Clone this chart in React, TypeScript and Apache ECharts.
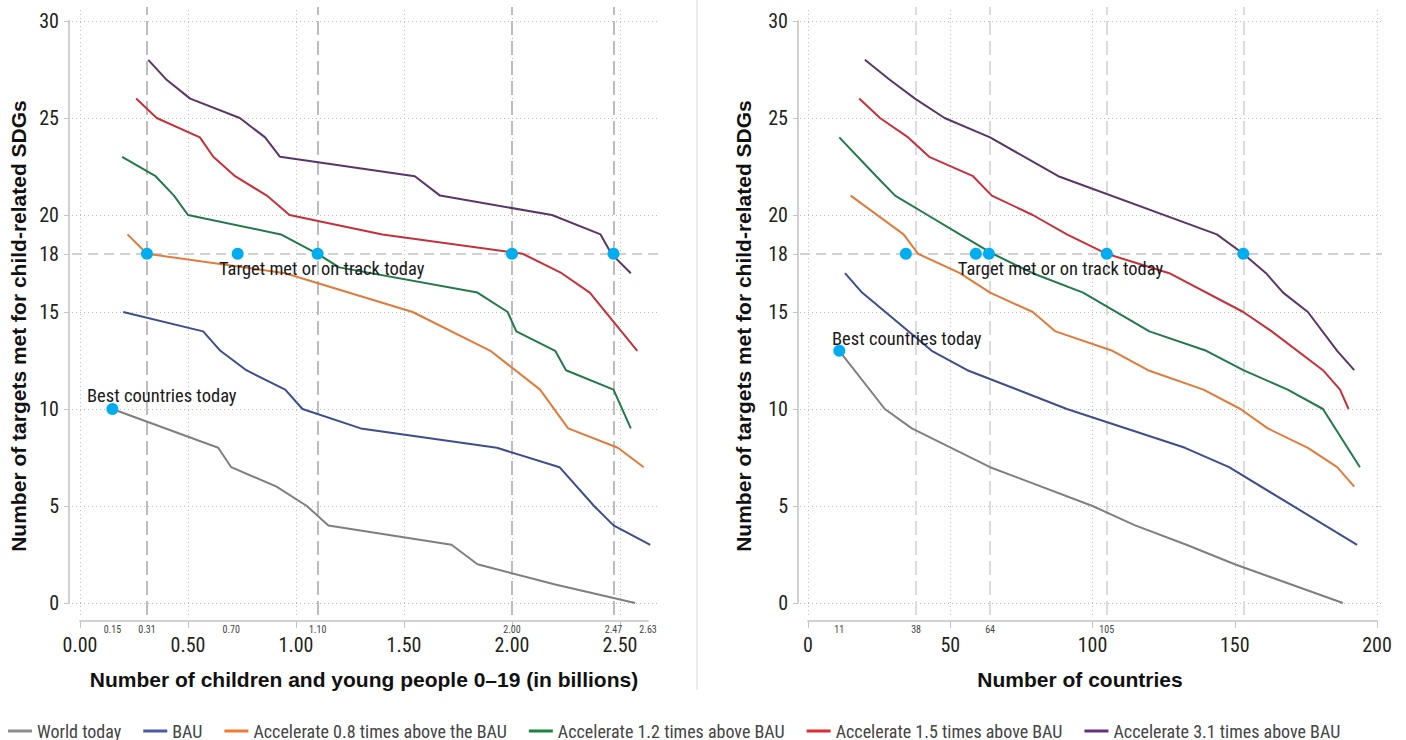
import React, { useEffect, useRef } from "react";
import * as echarts from "echarts";

const NARROW = '"Liberation Sans Narrow", "Arial Narrow", "Roboto Condensed", sans-serif';
const BOLD = '"Liberation Sans", Arial, Helvetica, sans-serif';

const seriesNames = [
  "World today",
  "BAU",
  "Accelerate 0.8 times above the BAU",
  "Accelerate 1.2 times above BAU",
  "Accelerate 1.5 times above BAU",
  "Accelerate 3.1 times above BAU",
];
const lineColors = ["#7f7f7f", "#3d4d8e", "#e07b39", "#22794a", "#c6303a", "#5b3568"];
const legendColors = ["#8c8c8c", "#4b5aa7", "#f07a2a", "#17843f", "#e12a2d", "#6b2e7e"];

// Left panel: number of children and young people (billions)
const leftWorld = [[0.15, 10], [0.64, 8], [0.70, 7], [0.91, 6], [1.05, 5], [1.15, 4], [1.72, 3], [1.84, 2], [2.2, 0.95], [2.57, 0]];
const leftBAU = [[0.20, 15], [0.57, 14], [0.65, 13], [0.77, 12], [0.95, 11], [1.03, 10], [1.30, 9], [1.93, 8], [2.22, 7], [2.38, 5], [2.47, 4], [2.64, 3]];
const leftAcc08 = [[0.22, 19], [0.31, 18], [0.95, 17], [1.54, 15], [1.90, 13], [2.13, 11], [2.26, 9], [2.49, 8], [2.61, 7]];
const leftAcc12 = [[0.195, 23], [0.35, 22], [0.435, 21], [0.50, 20], [0.93, 19], [1.10, 18], [1.20, 17.3], [1.84, 16], [1.98, 15], [2.02, 14], [2.20, 13], [2.25, 12], [2.47, 11], [2.55, 9]];
const leftAcc15 = [[0.26, 26], [0.355, 25], [0.555, 24], [0.617, 23], [0.718, 22], [0.865, 21], [0.97, 20], [1.40, 19], [2.05, 18], [2.23, 17], [2.36, 16], [2.58, 13]];
const leftAcc31 = [[0.316, 28], [0.398, 27], [0.51, 26], [0.74, 25], [0.857, 24], [0.926, 23], [1.55, 22], [1.667, 21], [2.185, 20], [2.41, 19], [2.46, 18], [2.55, 17]];
const leftTargetDots = [0.31, 0.73, 1.10, 2.00, 2.47];
const leftBest = [0.15, 10];
const leftXTicks = [0, 0.5, 1, 1.5, 2, 2.5];
const leftXMarks = [0.15, 0.31, 0.70, 1.10, 2.00, 2.47, 2.63];
const leftRefX = [0.31, 1.10, 2.00, 2.47];

// Right panel: number of countries
const rightWorld = [[11, 13], [27, 10], [36.5, 9], [64, 7], [100, 5], [115, 4], [133, 3], [150, 2], [188, 0]];
const rightBAU = [[13, 17], [19, 16], [43.5, 13], [56, 12], [91, 10], [132.5, 8], [148, 7], [193, 3]];
const rightAcc08 = [[15, 21], [33.6, 19], [38.7, 18], [53.4, 17], [64, 16], [79, 15], [87, 14], [107, 13], [119.5, 12], [139, 11], [152, 10], [161.6, 9], [175.7, 8], [186, 7], [192, 6]];
const rightAcc12 = [[11, 24], [24, 22], [30.6, 21], [42, 20], [53.4, 19], [65, 18], [79, 17], [96.7, 16], [120, 14], [140, 13], [153, 12], [168.6, 11], [181, 10], [194, 7]];
const rightAcc15 = [[18, 26], [25.3, 25], [35.2, 24], [42.6, 23], [58, 22], [64.6, 21], [79, 20], [91, 19], [105, 18], [127, 17], [153, 15], [163, 14], [181, 12], [187, 11], [190, 10]];
const rightAcc31 = [[20, 28], [28.5, 27], [37.6, 26], [48, 25], [64, 24], [88, 22], [143.7, 19], [153, 18], [161, 17], [167, 16], [175.7, 15], [186, 13], [192, 12]];
const rightTargetDots = [34.4, 59, 63.6, 105, 153];
const rightBest = [11, 13];
const rightXTicks = [0, 50, 100, 150, 200];
const rightXMarks = [11, 38, 64, 105];
const rightRefX = [38, 64, 105, 153];

const yTicks = [0, 5, 10, 15, 18, 20, 25, 30];
const yGrid = [0, 5, 10, 15, 20, 25, 30];
const targetLevel = 18;
const targetLabel = "Target met or on track today";
const bestLabel = "Best countries today";
const leftXTitle = "Number of children and young people 0–19 (in billions)";
const rightXTitle = "Number of countries";
const yTitle = "Number of targets met for child-related SDGs";

// layout (pixels)
const Y0 = 603;
const YPP = 19.4;
const PLOT_TOP = 7;
const PLOT_BOTTOM = 615;
const XAXIS_Y = 621;

const panels = [
  {
    plotLeft: 72, plotRight: 660, x0: 80, ppu: 216, yAxisX: 69, xAxisMax: 2.63, digits: 2,
    lines: [leftWorld, leftBAU, leftAcc08, leftAcc12, leftAcc15, leftAcc31],
    dots: leftTargetDots, best: leftBest, xTicks: leftXTicks, xMarks: leftXMarks, refX: leftRefX,
    refColor: "#bdbdbd", targetPos: [-12.7, 21], bestPos: [-19.4, -7],
    xTitle: leftXTitle, xTitleX: 364, yTitleX: 18,
  },
  {
    plotLeft: 800, plotRight: 1382, x0: 808, ppu: 2.845, yAxisX: 798, xAxisMax: 200, digits: 0,
    lines: [rightWorld, rightBAU, rightAcc08, rightAcc12, rightAcc15, rightAcc31],
    dots: rightTargetDots, best: rightBest, xTicks: rightXTicks, xMarks: rightXMarks, refX: rightRefX,
    refColor: "#dcdcdc", targetPos: [-12, 21], bestPos: [-1.3, -6],
    xTitle: rightXTitle, xTitleX: 1080, yTitleX: 743,
  },
];

function buildOption() {
  const grid: any[] = [];
  const xAxis: any[] = [];
  const yAxis: any[] = [];
  const series: any[] = [];
  const graphic: any[] = [];

  panels.forEach((p) => {
    const g0 = grid.length;
    grid.push({ left: p.plotLeft, top: PLOT_TOP, width: p.plotRight - p.plotLeft, height: PLOT_BOTTOM - PLOT_TOP, containLabel: false });
    grid.push({ left: p.yAxisX, top: Y0 - 30 * YPP, width: 20, height: 30 * YPP, containLabel: false });
    grid.push({ left: p.x0, top: XAXIS_Y - 10, width: p.xAxisMax * p.ppu, height: 10, containLabel: false });

    const xi = xAxis.length;
    const yi = yAxis.length;
    // plot axes (hidden)
    xAxis.push({ type: "value", gridIndex: g0, min: (p.plotLeft - p.x0) / p.ppu, max: (p.plotRight - p.x0) / p.ppu, show: false });
    yAxis.push({ type: "value", gridIndex: g0, min: (Y0 - PLOT_BOTTOM) / YPP, max: (Y0 - PLOT_TOP) / YPP, show: false });
    // y axis
    xAxis.push({ type: "value", gridIndex: g0 + 1, min: 0, max: 1, show: false });
    yAxis.push({
      type: "value", gridIndex: g0 + 1, min: 0, max: 30, position: "left",
      axisLine: { show: true, onZero: false, lineStyle: { color: "#d0d0d0", width: 2 } },
      axisTick: { show: true, customValues: yTicks, length: 5, lineStyle: { color: "#c4c4c4", width: 1 } },
      axisLabel: { show: true, customValues: yTicks, margin: 10, fontSize: 20, color: "#231f20", fontFamily: NARROW },
      splitLine: { show: false },
    });
    // x axis
    yAxis.push({ type: "value", gridIndex: g0 + 2, min: 0, max: 1, show: false });
    xAxis.push({
      type: "value", gridIndex: g0 + 2, position: "bottom", min: 0, max: p.xAxisMax,
      axisLine: { show: true, onZero: false, lineStyle: { color: "#d0d0d0", width: 2 } },
      axisTick: { show: true, customValues: p.xTicks, length: 7, lineStyle: { color: "#c4c4c4", width: 1 } },
      axisLabel: { show: true, customValues: p.xTicks, margin: 14, fontSize: 20, lineHeight: 20, color: "#231f20", fontFamily: NARROW, formatter: (v: number) => Number(v).toFixed(p.digits) },
      splitLine: { show: false },
    });
    xAxis.push({
      type: "value", gridIndex: g0 + 2, position: "bottom", offset: 0, min: 0, max: p.xAxisMax,
      axisLine: { show: false }, axisTick: { show: false },
      axisLabel: { show: true, customValues: p.xMarks, margin: 3, fontSize: 10, lineHeight: 10, color: "#444", fontFamily: NARROW, formatter: (v: number) => Number(v).toFixed(p.digits) },
      splitLine: { show: false },
    });

    // dotted grid
    series.push({
      type: "line", xAxisIndex: xi, yAxisIndex: yi, data: [], silent: true, z: 1,
      markLine: {
        silent: true, symbol: ["none", "none"], label: { show: false }, z: 1, animation: false,
        lineStyle: { type: [1, 3], color: "#bdbdbd", width: 1 },
        data: [...p.xTicks.map((v) => ({ xAxis: v })), ...yGrid.map((v) => ({ yAxis: v }))],
      },
    });
    // reference dashed lines
    series.push({
      type: "line", xAxisIndex: xi, yAxisIndex: yi, data: [], silent: true, z: 2,
      markLine: {
        silent: true, symbol: ["none", "none"], label: { show: false }, z: 2, animation: false,
        data: [
          ...p.refX.map((v) => ({ xAxis: v, lineStyle: { type: [14, 6], color: p.refColor, width: 2 } })),
          { yAxis: targetLevel, lineStyle: { type: [10, 6], color: "#d0d0d0", width: 2 } },
        ],
      },
    });
    // scenario lines
    p.lines.forEach((d, i) => {
      series.push({
        name: seriesNames[i], type: "line", xAxisIndex: xi, yAxisIndex: yi, data: d,
        symbol: "none", showSymbol: false, z: 3,
        lineStyle: { width: 2, color: lineColors[i] }, itemStyle: { color: lineColors[i] },
      });
    });
    // dots
    const labelStyle = { show: true, fontSize: 18.5, color: "#1a1a1a", fontFamily: NARROW, align: "left", verticalAlign: "middle" };
    series.push({
      type: "scatter", xAxisIndex: xi, yAxisIndex: yi, z: 4, symbolSize: 12, silent: true,
      itemStyle: { color: "#00aeef", opacity: 1 },
      label: { show: false },
      data: [
        ...p.dots.map((x, j) => (j === 1
          ? { value: [x, targetLevel], label: { ...labelStyle, formatter: targetLabel, position: p.targetPos } }
          : { value: [x, targetLevel] })),
        { value: p.best, label: { ...labelStyle, formatter: bestLabel, position: p.bestPos } },
      ],
    });

    graphic.push({
      type: "text", x: p.xTitleX, y: 679, silent: true,
      style: { text: p.xTitle, fill: "#111", fontSize: 21, fontWeight: "bold", fontFamily: BOLD, align: "center", verticalAlign: "middle", textAlign: "center", textVerticalAlign: "middle" },
    });
    graphic.push({
      type: "text", x: p.yTitleX, y: 326, rotation: Math.PI / 2, silent: true,
      style: { text: yTitle, fill: "#111", fontSize: 21, fontWeight: "bold", fontFamily: BOLD, align: "center", verticalAlign: "middle", textAlign: "center", textVerticalAlign: "middle" },
    });
  });

  graphic.push({ type: "rect", silent: true, shape: { x: 696, y: 0, width: 2, height: 690 }, style: { fill: "#ececec" } });

  return {
    animation: false,
    backgroundColor: "#ffffff",
    grid, xAxis, yAxis, series, graphic,
    legend: {
      left: 3, top: 717, icon: "rect", itemWidth: 24, itemHeight: 3, itemGap: 22, selectedMode: false,
      textStyle: { fontSize: 18, color: "#444", fontFamily: NARROW },
      data: seriesNames.map((n, i) => ({ name: n, itemStyle: { color: legendColors[i] } })),
    },
  };
}

export default function App() {
  const ref = useRef<HTMLDivElement>(null);
  useEffect(() => {
    if (!ref.current) return;
    const chart = echarts.init(ref.current, null, { renderer: "svg" });
    chart.setOption(buildOption() as any);
    return () => chart.dispose();
  }, []);
  return <div ref={ref} style={{ position: "absolute", left: 0, top: 0, width: 1406, height: 740 }} />;
}
